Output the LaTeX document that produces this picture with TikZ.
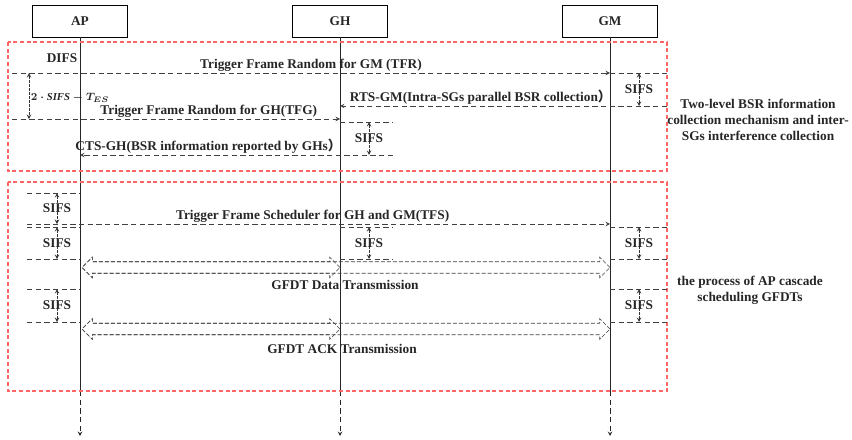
\documentclass[tikz,border=0pt]{standalone}
\usepackage{fontspec}
\setmainfont{Liberation Serif}
\newfontfamily\cjk{Noto Sans CJK SC}
\usepackage{amsmath}
\usepackage{tikz}
\usetikzlibrary{arrows,shapes,positioning,calc}

\begin{document}
\begin{tikzpicture}[
    x=0.75pt, y=-0.75pt,
    font=\fontsize{10}{12}\selectfont\bfseries, >=stealth,
    lbox/.style={rectangle, draw, thin, minimum width=71.25pt, minimum height=24pt, inner sep=0pt, text=black!85},
    life/.style={line width=0.5pt, black!85},
    msg/.style={line width=0.5pt, black!75, dash pattern=on 4pt off 2.5pt},
    sifs/.style={<->, line width=0.5pt, black!80, dash pattern=on 2pt off 1pt},
    phase/.style={draw=red!60, line width=0.9pt, dash pattern=on 3pt off 2pt},
    hollow/.style={double arrow, draw=black!75, line width=0.5pt, dash pattern=on 3pt off 1.5pt, inner xsep=0pt, inner ysep=4.1pt, double arrow head extend=3.4pt, double arrow tip angle=90},
    lbl/.style={text=black!85, inner sep=1pt}
]
    \useasboundingbox (0,0) rectangle (852,439);
    % lifelines
    \node[lbox] (ap) at (80,21) {AP};
    \node[lbox] (gh) at (340,21) {GH};
    \node[lbox] (gm) at (610,21) {GM};
    \foreach \n in {ap,gh,gm} {
        \coordinate (\n-cut) at (\n |- 0,391);
        \coordinate (\n-end) at (\n |- 0,436);
        \draw[life] (\n) -- (\n-cut);
        \draw[life, dash pattern=on 4pt off 2.5pt, ->] (\n-cut) -- (\n-end);
    }
    % row coordinates
    \foreach \r/\y/\lx in {tfr/73/12, rts/106/12, tfg/119/12, ghs/122/12, cts/155/12,
                           s1/193/27, tfs/224/27, s2/227/27, s3/259/27, s4/289/27, s5/322/27} {
        \coordinate (lft-\r) at (\lx,\y);
        \coordinate (ap-\r) at (ap |- 0,\y);
        \coordinate (gh-\r) at (gh |- 0,\y);
        \coordinate (gm-\r) at (gm |- 0,\y);
        \coordinate (aps-\r) at (57,\y);
        \coordinate (ghs-\r) at (369,\y);
        \coordinate (gms-\r) at (639,\y);
        \coordinate (ghr-\r) at (393,\y);
        \coordinate (gmr-\r) at (667,\y);
    }
    \coordinate (dim-top) at (29,73);
    \coordinate (dim-bot) at (29,119);

    % two-level BSR collection
    \draw[phase] (8,42) rectangle (667,171);
    \node[lbl] (difs) at (62,58) {DIFS};
    \draw[msg, ->] (lft-tfr) -- node[lbl, above] {Trigger Frame Random for GM (TFR)} (gm-tfr);
    \draw[msg] (gm-tfr) -- (gmr-tfr);
    \draw[sifs] (gms-tfr) -- node[lbl] {SIFS} (gms-rts);
    \draw[msg, ->] (gmr-rts) -- node[lbl, above, pos=0.57] {RTS-GM(Intra-SGs parallel BSR collection{\cjk ）}} (gh-rts);
    \draw[sifs] (dim-top) -- (dim-bot);
    \node[lbl, font=\footnotesize\boldmath] (dimlbl) at (70,98) {$2\cdot\mathit{SIFS}-T_{ES}$};
    \draw[msg, ->] (lft-tfg) -- node[lbl, above, pos=0.6] {Trigger Frame Random for GH(TFG)} (gh-tfg);
    \draw[msg] (gh-ghs) -- (ghr-ghs);
    \draw[sifs] (ghs-ghs) -- node[lbl] {SIFS} (ghs-cts);
    \draw[msg, ->] (ghr-cts) -- node[lbl, above, pos=0.59] {CTS-GH(BSR information reported by GHs{\cjk ）}} (ap-cts);
    \node[lbl, align=center] (twolvl) at (758,120) {Two-level BSR information\\collection mechanism and inter-\\SGs interference collection};

    % cascade scheduling
    \draw[phase] (8,182) rectangle (667,391);
    \draw[msg] (lft-s1) -- (ap-s1);
    \draw[sifs] (aps-s1) -- node[lbl] {SIFS} (aps-tfs);
    \draw[msg, ->] (lft-tfs) -- node[lbl, above, pos=0.49] {Trigger Frame Scheduler for GH and GM(TFS)} (gm-tfs);
    \draw[msg] (lft-s2) -- (ap-s2);
    \draw[msg] (gh-s2) -- (ghr-s2);
    \draw[msg] (gm-s2) -- (gmr-s2);
    \draw[sifs] (aps-s2) -- node[lbl] {SIFS} (aps-s3);
    \draw[sifs] (ghs-s2) -- node[lbl] {SIFS} (ghs-s3);
    \draw[sifs] (gms-s2) -- node[lbl] {SIFS} (gms-s3);
    \draw[msg] (lft-s3) -- (ap-s3);
    \draw[msg] (gh-s3) -- (ghr-s3);
    \draw[msg] (gm-s3) -- (gmr-s3);
    \node[hollow, minimum height=396pt] (dat-gm) at (346,267.5) {};
    \node[hollow, minimum height=193.5pt] (dat-gh) at (211,267.5) {};
    \node[lbl] (datlbl) at (345,285) {GFDT Data Transmission};
    \draw[msg] (lft-s4) -- (ap-s4);
    \draw[msg] (gm-s4) -- (gmr-s4);
    \draw[sifs] (aps-s4) -- node[lbl] {SIFS} (aps-s5);
    \draw[sifs] (gms-s4) -- node[lbl] {SIFS} (gms-s5);
    \draw[msg] (lft-s5) -- (ap-s5);
    \draw[msg] (gm-s5) -- (gmr-s5);
    \node[hollow, minimum height=396pt] (ack-gm) at (346,329) {};
    \node[hollow, minimum height=193.5pt] (ack-gh) at (211,329) {};
    \node[lbl] (acklbl) at (342,349) {GFDT ACK Transmission};
    \node[lbl, align=center] (casc) at (750,290) {the process of AP cascade\\scheduling GFDTs};
\end{tikzpicture}
\end{document}
